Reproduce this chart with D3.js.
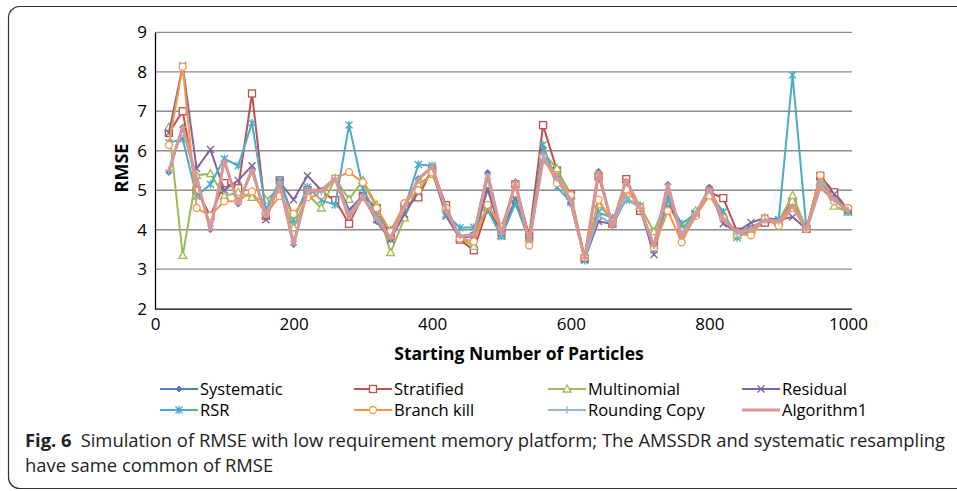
<!DOCTYPE html>
<html><head><meta charset="utf-8">
<script src="https://cdn.jsdelivr.net/npm/d3@7"></script>
<style>
body{margin:0;background:#fff;}
svg{display:block;}
</style></head>
<body>
<svg id="c" width="957" height="491"></svg>
<script>
const xValues = [20,40,60,80,100,120,140,160,180,200,220,240,260,280,300,320,340,360,380,400,420,440,460,480,500,520,540,560,580,600,620,640,660,680,700,720,740,760,780,800,820,840,860,880,900,920,940,960,980,1000];
const systematic = [5.45,6.6,5.3,4.0,5.75,4.65,5.5,4.35,5.15,3.62,5.0,5.0,5.3,4.4,4.85,4.2,3.75,4.6,5.3,5.6,4.5,3.8,3.9,5.45,3.9,5.22,3.72,5.8,5.35,4.65,3.28,5.48,4.1,4.8,4.55,3.6,5.15,3.85,4.4,5.08,4.3,3.95,4.05,4.25,4.2,4.62,4.02,5.2,4.78,4.5];
const stratified = [6.45,7.0,5.0,4.35,5.18,5.05,7.45,4.35,5.25,4.3,5.0,4.95,4.75,4.15,4.85,4.55,3.83,4.6,4.82,5.55,4.62,3.75,3.48,4.55,3.95,5.15,3.85,6.65,5.5,4.9,3.27,5.35,4.15,5.28,4.48,3.6,4.7,4.0,4.4,4.95,4.8,3.95,4.0,4.18,4.2,4.72,4.02,5.35,4.95,4.5];
const multinomial = [6.6,3.35,5.38,5.42,4.85,4.95,4.82,4.75,5.05,4.05,4.9,4.55,5.3,4.77,5.25,4.62,3.42,4.3,5.15,5.4,4.55,3.8,3.58,5.15,3.85,4.75,3.8,5.95,5.55,4.85,3.3,4.63,4.25,4.8,4.6,3.95,4.85,4.0,4.48,4.9,4.4,3.85,4.0,4.3,4.22,4.87,4.02,5.22,4.6,4.45];
const residual = [6.45,8.15,5.55,6.03,5.0,5.25,5.62,4.25,5.2,4.76,5.37,5.0,5.3,4.5,4.86,4.25,3.75,4.4,4.95,5.5,4.35,3.78,3.85,5.02,3.9,4.78,3.7,6.0,5.3,4.75,3.25,4.21,4.15,5.2,4.55,3.37,4.85,3.9,4.4,5.0,4.15,3.95,4.18,4.3,4.25,4.32,4.02,5.38,4.9,4.5];
const rsr = [6.2,6.3,4.85,5.15,5.8,5.62,6.7,4.5,5.25,4.25,5.08,4.75,4.63,6.65,5.05,4.35,4.0,4.55,5.65,5.62,4.4,4.05,4.06,4.5,3.83,4.67,3.75,6.15,5.08,4.7,3.22,4.44,4.3,4.75,4.6,3.5,4.75,4.15,4.4,4.95,4.45,3.8,4.0,4.25,4.25,7.92,4.02,5.15,4.75,4.45];
const branchKill = [6.15,8.13,4.55,4.35,4.72,4.73,4.97,4.4,4.85,4.4,4.82,4.88,5.3,5.46,5.2,4.55,3.95,4.67,5.0,5.45,4.55,3.78,3.7,4.63,4.07,5.15,3.6,5.85,5.18,4.88,3.3,4.76,4.2,5.02,4.55,3.55,4.48,3.68,4.35,4.87,4.3,3.9,3.86,4.28,4.1,4.55,4.02,5.38,4.72,4.55];
const roundingCopy = [5.5,6.6,5.2,4.1,5.7,4.7,5.5,4.4,5.2,3.7,5.0,4.95,5.3,4.4,4.85,4.25,3.8,4.6,5.25,5.6,4.5,3.85,3.9,5.3,3.9,5.2,3.75,5.9,5.3,4.75,3.28,4.35,4.15,4.8,4.55,3.6,5.0,3.9,4.4,5.0,4.3,3.9,4.0,4.25,4.2,4.6,4.02,5.15,4.75,4.5];
const algorithm1 = [5.5,6.6,5.3,4.0,5.75,4.65,5.52,4.35,5.15,3.62,5.0,5.0,5.3,4.3,4.82,4.3,3.78,4.6,5.28,5.6,4.5,3.82,3.87,5.4,3.9,5.2,3.7,5.77,5.38,4.72,3.28,5.47,4.08,5.27,4.55,3.58,5.15,3.8,4.35,5.05,4.25,3.95,4.0,4.25,4.2,4.62,4.0,5.08,4.75,4.5];
const seriesNames = ["Systematic","Stratified","Multinomial","Residual","RSR","Branch kill","Rounding Copy","Algorithm1"];
const xTicks = [0,200,400,600,800,1000];
const yTicks = [2,3,4,5,6,7,8,9];

const seriesData = [systematic,stratified,multinomial,residual,rsr,branchKill,roundingCopy,algorithm1];
const colors = ["#4F81BD","#C0504D","#9BBB59","#8064A2","#4BACC6","#F79646","#95B3D7","#D99694"];
const markers = ["diamond","square","triangle","cross","star","circle","plus","dash"];

const svg = d3.select("#c");
const L=155, R=848, T=32.3, B=308.7, RE=852;
const x = d3.scaleLinear().domain([0,1000]).range([L,R]);
const y = d3.scaleLinear().domain([2,9]).range([B,T]);
const font = "'Open Sans', sans-serif";

// frame (right side runs off the picture)
svg.append("rect").attr("x",8.5).attr("y",6.5).attr("width",980).attr("height",482)
  .attr("rx",11).attr("fill","none").attr("stroke","#333").attr("stroke-width",1.2);

// gridlines
svg.append("g").selectAll("line").data(yTicks.filter(d=>d>2)).join("line")
  .attr("x1",L).attr("x2",RE).attr("y1",d=>y(d)).attr("y2",d=>y(d))
  .attr("stroke","#8c8c8c").attr("stroke-width",1.3);

// axes
const yAxis = d3.axisLeft(y).tickValues(yTicks).tickSize(0).tickPadding(8).tickFormat(d3.format("d"));
const gy = svg.append("g").attr("transform",`translate(${L},0)`).call(yAxis);
gy.select(".domain").attr("stroke","#000").attr("stroke-width",1.3);
gy.selectAll("text").attr("font-family",font).attr("font-size",17).attr("fill","#000");

const xAxis = d3.axisBottom(x).tickValues(xTicks).tickSize(0).tickPadding(9).tickFormat(d3.format("d"));
const gx = svg.append("g").attr("transform",`translate(0,${B})`).call(xAxis);
gx.select(".domain").attr("d",`M${L},0.5H${RE}`).attr("stroke","#000").attr("stroke-width",1.3);
gx.selectAll("text").attr("font-family",font).attr("font-size",17).attr("fill","#000");

// axis titles
svg.append("text").attr("x",519).attr("y",360).attr("text-anchor","middle")
  .attr("font-family",font).attr("font-weight","bold").attr("font-size",17.5).text("Starting Number of Particles");
svg.append("text").attr("transform","translate(128,168) rotate(-90)").attr("text-anchor","middle")
  .attr("font-family",font).attr("font-weight","bold").attr("font-size",18).text("RMSE");

function drawMarker(g, type, color, cx, cy){
  const s=3.5;
  if(type==="diamond"){
    g.append("path").attr("d",`M${cx},${cy-3}L${cx+3},${cy}L${cx},${cy+3}L${cx-3},${cy}Z`).attr("fill",color).attr("stroke",color);
  } else if(type==="square"){
    g.append("rect").attr("x",cx-3.5).attr("y",cy-3.5).attr("width",7).attr("height",7).attr("fill","#fff").attr("stroke",color).attr("stroke-width",1.3);
  } else if(type==="triangle"){
    g.append("path").attr("d",`M${cx},${cy-4}L${cx+4},${cy+3}L${cx-4},${cy+3}Z`).attr("fill","#fff").attr("stroke",color).attr("stroke-width",1.3);
  } else if(type==="cross"){
    g.append("path").attr("d",`M${cx-s},${cy-s}L${cx+s},${cy+s}M${cx-s},${cy+s}L${cx+s},${cy-s}`).attr("stroke",color).attr("stroke-width",1.4);
  } else if(type==="star"){
    g.append("path").attr("d",`M${cx-s},${cy-s}L${cx+s},${cy+s}M${cx-s},${cy+s}L${cx+s},${cy-s}M${cx},${cy-s-0.5}L${cx},${cy+s+0.5}`).attr("stroke",color).attr("stroke-width",1.4);
  } else if(type==="circle"){
    g.append("circle").attr("cx",cx).attr("cy",cy).attr("r",3.5).attr("fill","#fff").attr("stroke",color).attr("stroke-width",1.3);
  } else if(type==="plus"){
    g.append("path").attr("d",`M${cx-s},${cy}L${cx+s},${cy}M${cx},${cy-s}L${cx},${cy+s}`).attr("stroke",color).attr("stroke-width",1.4);
  } else if(type==="dash"){
    g.append("path").attr("d",`M${cx-s},${cy}L${cx+s},${cy}`).attr("stroke",color).attr("stroke-width",1.6);
  }
}

const line = d3.line().x((d,i)=>x(xValues[i])).y(d=>y(d));
seriesData.forEach((vals,si)=>{
  const g = svg.append("g");
  g.append("path").datum(vals).attr("d",line).attr("fill","none")
    .attr("stroke",colors[si]).attr("stroke-width", si===7?3:2).attr("stroke-linejoin","round");
  vals.forEach((v,i)=>drawMarker(g, markers[si], colors[si], x(xValues[i]), y(v)));
});

// legend
const legCols=[160,354,548,742], legRows=[389,410];
seriesNames.forEach((name,i)=>{
  const cx=legCols[i%4], cy=legRows[Math.floor(i/4)];
  const g=svg.append("g");
  g.append("line").attr("x1",cx).attr("x2",cx+38).attr("y1",cy).attr("y2",cy).attr("stroke",colors[i]).attr("stroke-width",i===7?3:2);
  drawMarker(g, markers[i], colors[i], cx+19, cy);
  g.append("text").attr("x",cx+40).attr("y",cy+6).attr("font-family",font).attr("font-size",16.5).attr("fill","#000").text(name);
});

// caption
const cap = svg.append("text").attr("x",25).attr("y",447).attr("font-family",font).attr("font-size",18.4).attr("fill","#222");
cap.append("tspan").attr("font-weight","bold").text("Fig. 6");
cap.append("tspan").attr("dx",9).text("Simulation of RMSE with low requirement memory platform; The AMSSDR and systematic resampling");
svg.append("text").attr("x",25).attr("y",472).attr("font-family",font).attr("font-size",18.4).attr("fill","#222").text("have same common of RMSE");
</script>
</body></html>
